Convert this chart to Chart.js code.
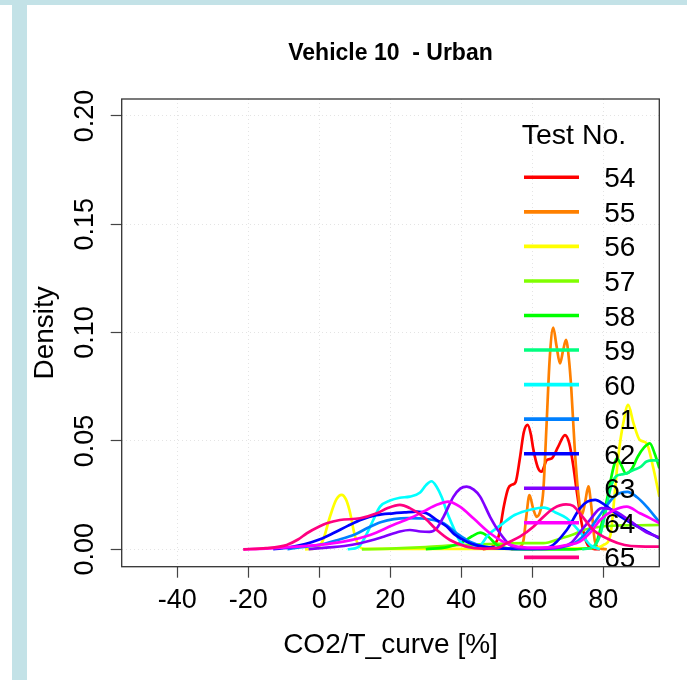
<!DOCTYPE html>
<html>
<head>
<meta charset="utf-8">
<title>Vehicle 10 - Urban</title>
<script src="https://cdn.jsdelivr.net/npm/chart.js@4.4.1/dist/chart.umd.min.js"></script>
<style>
  html, body { margin: 0; padding: 0; background: #ffffff; }
  #wrap { position: relative; width: 687px; height: 680px; overflow: hidden; background: #ffffff; }
  #bandTop { position: absolute; left: 0; top: 0; width: 687px; height: 5px; background: #c3e2e7; }
  #bandLeft { position: absolute; left: 12px; top: 0; width: 15px; height: 680px; background: #c3e2e7; }
  #c { position: absolute; left: 0; top: 0; }
</style>
</head>
<body>
<div id="wrap">
  <div id="bandTop"></div>
  <div id="bandLeft"></div>
  <canvas id="c" width="687" height="680"></canvas>
</div>
<script>
// ---- Data: kernel density estimates of CO2/T_curve [%] per test ----
const testNos = ['54', '55', '56', '57', '58', '59', '60', '61', '62', '63', '64', '65'];

const density54 = [[46,0],[48.5,0.001],[50.5,0.006],[52,0.02],[53.2,0.028],[54.3,0.0298],[55.3,0.031],[56.5,0.042],[57.6,0.054],[58.7,0.0574],[59.6,0.053],[60.3,0.046],[61.5,0.038],[62.6,0.0358],[64.1,0.0412],[65.5,0.042],[67.3,0.0474],[69.2,0.0527],[70.4,0.049],[71.5,0.039],[72.5,0.027],[73.9,0.012],[75.3,0.003],[77,0.0003],[79,0]];
const density55 = [[54,0],[56.5,0.001],[57.5,0.004],[58.3,0.015],[59.2,0.025],[60.2,0.019],[61.2,0.015],[62.3,0.018],[63.1,0.027],[64,0.057],[64.9,0.088],[65.9,0.1023],[66.8,0.094],[67.8,0.0858],[68.7,0.092],[69.5,0.0966],[70.3,0.088],[71,0.0735],[72,0.045],[73,0.025],[74,0.016],[74.9,0.022],[75.8,0.029],[76.6,0.02],[77.6,0.004],[79,0.0005],[81,0]];
const density56 = [[-4,0],[-1,0.0005],[1,0.004],[3,0.015],[4.8,0.023],[6.3,0.0251],[7.5,0.023],[8.5,0.018],[10.1,0.0058],[11.9,0.0005],[14,0.0002],[30,0.0002],[50,0.0002],[65,0.0003],[75,0.0004],[78.5,0.0008],[80.1,0.002],[82,0.0065],[83.3,0.0274],[84.2,0.0427],[85.6,0.058],[87,0.0666],[88.5,0.0582],[90.3,0.0504],[92.2,0.0489],[94,0.0381],[95.8,0.0243]];
const density57 = [[12,0],[20,0.0003],[30,0.001],[40,0.002],[50,0.0025],[58,0.0028],[63.1,0.0028],[68,0.005],[71.5,0.0068],[74.4,0.0089],[79.1,0.0104],[85,0.011],[90,0.0111],[95.8,0.0112]];
const density58 = [[30,0],[36,0.001],[40,0.003],[43,0.006],[45.3,0.0077],[47.5,0.006],[50,0.002],[53,0.0004],[58,0],[72,0],[76,0.0005],[77.5,0.0012],[79.1,0.0089],[81,0.0228],[82.9,0.038],[83.8,0.042],[85,0.039],[86.4,0.035],[88,0.037],[89.7,0.0427],[91.5,0.047],[93.1,0.0489],[94.5,0.044],[95.8,0.0374]];
const density59 = [[74,0],[77,0.001],[79,0.006],[80.5,0.016],[82,0.028],[83.5,0.0335],[85,0.0345],[86.5,0.035],[88.5,0.0366],[90.5,0.038],[92.2,0.0405],[94,0.041],[95.8,0.041]];
const density60 = [[8,0],[11,0.001],[13,0.006],[15.2,0.0135],[17.1,0.0197],[19.9,0.0225],[22.7,0.0238],[25.5,0.0243],[28.4,0.0262],[30,0.0295],[31.6,0.0314],[33,0.029],[34.5,0.024],[36,0.017],[37.7,0.0104],[39.5,0.004],[41,0.0015],[43.5,0.0008],[45.5,0.002],[47.5,0.0065],[51,0.011],[55,0.0158],[60,0.0185],[63.3,0.0192],[66.5,0.017],[69.7,0.0143],[73.4,0.008],[76.3,0.002],[79,0]];
const density61 = [[-9,0],[-5,0.001],[0,0.002],[5,0.0042],[10,0.0068],[14,0.0102],[17.5,0.0126],[21,0.0139],[25,0.0144],[29,0.0142],[32.1,0.0135],[35,0.012],[38.7,0.0074],[42.4,0.0035],[47.1,0.001],[52,0.0003],[60,0.0002],[68,0.001],[72,0.003],[76,0.009],[80,0.018],[83.5,0.025],[86.8,0.0265],[89.5,0.024],[92.2,0.0197],[95.8,0.0125]];
const density62 = [[-13,0],[-8,0.001],[-4,0.0024],[0,0.0045],[4,0.0075],[8,0.0108],[12,0.0138],[16,0.0157],[20.8,0.0166],[24,0.017],[27.4,0.0174],[30.2,0.0166],[33.1,0.0135],[35.9,0.0105],[38,0.007],[41.5,0.0035],[44.3,0.0018],[47.1,0.001],[52,0.0003],[60,0.0002],[65,0.0012],[69.7,0.0089],[73.4,0.0189],[75.5,0.022],[77.7,0.0228],[80,0.021],[84,0.016],[88,0.012],[92,0.0085],[95.8,0.005]];
const density63 = [[-3,0],[2,0.0008],[7,0.0015],[11.5,0.0028],[18.1,0.0058],[22.7,0.0082],[25.5,0.0089],[28.5,0.0082],[31,0.008],[33,0.0095],[35,0.015],[37.8,0.0243],[39.7,0.028],[41.5,0.0289],[43.5,0.0275],[45.3,0.0243],[48.1,0.015],[50.9,0.0074],[53.7,0.002],[56,0.0005],[62,0.0002],[68,0.001],[71,0.003],[73.5,0.008],[76.2,0.0135],[79.5,0.019],[82,0.0185],[85,0.016],[88,0.0125],[92,0.008],[95.8,0.0055]];
const density64 = [[-21.4,0],[-15,0.0003],[-8,0.001],[0,0.002],[6.8,0.0035],[14.3,0.0066],[20.8,0.0112],[25.5,0.0143],[29.3,0.0174],[33.1,0.0205],[36.3,0.022],[39.6,0.0197],[43.4,0.0143],[48.1,0.0074],[51.8,0.0035],[55,0.0015],[60,0.0008],[66,0.001],[70,0.002],[73.4,0.0035],[76.5,0.008],[79.1,0.0135],[82.9,0.018],[86.6,0.0197],[90.3,0.0166],[93,0.0145],[95.8,0.012]];
const density65 = [[-21.4,0],[-15,0.0005],[-9.2,0.002],[-6,0.0045],[-3.5,0.0074],[0,0.0105],[2.1,0.012],[5.8,0.0135],[11.5,0.0143],[16.2,0.0166],[19.1,0.0189],[22.7,0.0205],[25.5,0.019],[29.3,0.015],[33.1,0.0089],[36.8,0.0043],[41.5,0.0012],[46,0.0003],[50,0.0005],[53,0.003],[56.5,0.0058],[60.3,0.0104],[62.2,0.0135],[66,0.0189],[69.5,0.0207],[71.5,0.02],[73.4,0.0166],[77.2,0.0089],[81.9,0.0043],[86,0.002],[90,0.0013],[95.8,0.0012]];

const densities = [density54, density55, density56, density57, density58, density59,
                   density60, density61, density62, density63, density64, density65];

// Axis ticks and labels
const xTicks = [-40, -20, 0, 20, 40, 60, 80];
const xTickLabels = ['-40', '-20', '0', '20', '40', '60', '80'];
const yTicks = [0, 0.05, 0.10, 0.15, 0.20];
const yTickLabels = ['0.00', '0.05', '0.10', '0.15', '0.20'];
const xRange = [-55.66, 95.77];
const yRange = [-0.00804, 0.2078];

const chartTitle = 'Vehicle 10  - Urban';
const xTitle = 'CO2/T_curve [%]';
const yTitle = 'Density';
const legendTitle = 'Test No.';

// rainbow(12) palette, one colour per test
const palette = ['#FF0000', '#FF8000', '#FFFF00', '#80FF00', '#00FF00', '#00FF80',
                 '#00FFFF', '#0080FF', '#0000FF', '#8000FF', '#FF00FF', '#FF0080'];

const FONT = "'Liberation Sans', Arial, Helvetica, sans-serif";

const datasets = densities.map((pts, i) => ({
  label: testNos[i],
  data: pts.map(p => ({ x: p[0], y: p[1] })),
  borderColor: palette[i],
  backgroundColor: palette[i],
  borderWidth: 2.7,
  pointRadius: 0,
  fill: false,
  cubicInterpolationMode: 'monotone',
  clip: 0,
  order: densities.length - 1 - i   // later tests are painted on top
}));

// Frame, text and legend drawn in base-graphics style
const basePlotDecor = {
  id: 'basePlotDecor',
  afterDatasetsDraw(chart) {
    const ctx = chart.ctx;
    const a = chart.chartArea;
    ctx.save();
    // legend (no box), drawn over the curves
    const lx0 = a.left + 402.3, lx1 = a.left + 457.3;
    const firstY = a.top + 78.3, step = 34.55;
    ctx.fillStyle = '#000';
    ctx.font = '28.5px ' + FONT;
    ctx.textAlign = 'center';
    ctx.textBaseline = 'alphabetic';
    ctx.fillText(legendTitle, a.left + 452.3, a.top + 44.5);
    ctx.font = '28px ' + FONT;
    ctx.textAlign = 'left';
    chart.data.datasets.forEach((ds, i) => {
      const ly = firstY + i * step;
      ctx.strokeStyle = ds.borderColor;
      ctx.lineWidth = 3.6;
      ctx.lineCap = 'butt';
      ctx.beginPath();
      ctx.moveTo(lx0, ly);
      ctx.lineTo(lx1, ly);
      ctx.stroke();
      ctx.fillStyle = '#000';
      ctx.fillText(ds.label, a.left + 482.6, ly + 10);
    });
    ctx.restore();
  },
  afterDraw(chart) {
    const ctx = chart.ctx;
    const a = chart.chartArea;
    const xs = chart.scales.x, ys = chart.scales.y;
    const cx = (a.left + a.right) / 2, cy = (a.top + a.bottom) / 2;
    ctx.save();
    // plot box
    ctx.strokeStyle = '#333333';
    ctx.lineWidth = 1.3;
    ctx.strokeRect(a.left, a.top, a.right - a.left, a.bottom - a.top);

    ctx.fillStyle = '#000';
    ctx.textBaseline = 'alphabetic';
    // main title
    ctx.font = 'bold 23px ' + FONT;
    ctx.textAlign = 'center';
    ctx.fillText(chartTitle, cx, 60);

    // x tick labels
    ctx.font = '27px ' + FONT;
    xTicks.forEach((v, i) => {
      ctx.fillText(xTickLabels[i], xs.getPixelForValue(v), a.bottom + 41.5);
    });
    // x axis title
    ctx.font = '28px ' + FONT;
    ctx.fillText(xTitle, cx, a.bottom + 86.5);

    // y tick labels, rotated
    ctx.font = '27px ' + FONT;
    yTicks.forEach((v, i) => {
      ctx.save();
      ctx.translate(a.left - 29.2, ys.getPixelForValue(v));
      ctx.rotate(-Math.PI / 2);
      ctx.fillText(yTickLabels[i], 0, 0);
      ctx.restore();
    });
    // y axis title
    ctx.font = '28px ' + FONT;
    ctx.save();
    ctx.translate(a.left - 68.7, cy);
    ctx.rotate(-Math.PI / 2);
    ctx.fillText(yTitle, 0, 0);
    ctx.restore();
    ctx.restore();
  }
};

const gridStyle = {
  color: '#e4e4e4',
  lineWidth: 1,
  drawOnChartArea: true,
  drawTicks: true,
  tickLength: 11,
  tickColor: '#444444',
  tickWidth: 1.2
};

new Chart(document.getElementById('c').getContext('2d'), {
  type: 'line',
  data: { datasets },
  options: {
    responsive: false,
    animation: false,
    events: [],
    layout: { padding: { top: 99, right: 27.7, bottom: 0, left: 0 } },
    plugins: {
      legend: { display: false },
      tooltip: { enabled: false },
      title: { display: false }
    },
    scales: {
      x: {
        type: 'linear',
        min: xRange[0],
        max: xRange[1],
        afterBuildTicks: s => { s.ticks = xTicks.map(v => ({ value: v })); },
        afterFit: s => { s.height = 113.3; },
        ticks: { display: false },
        grid: gridStyle,
        border: { display: false, dash: [1, 3] }
      },
      y: {
        type: 'linear',
        min: yRange[0],
        max: yRange[1],
        afterBuildTicks: s => { s.ticks = yTicks.map(v => ({ value: v })); },
        afterFit: s => { s.width = 121.7; },
        ticks: { display: false },
        grid: gridStyle,
        border: { display: false, dash: [1, 3] }
      }
    }
  },
  plugins: [basePlotDecor]
});
</script>
</body>
</html>
